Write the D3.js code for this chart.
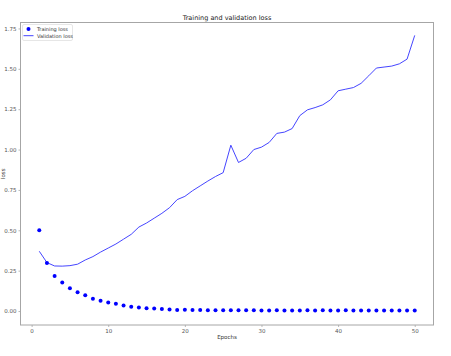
<!DOCTYPE html>
<html>
<head>
<meta charset="utf-8">
<script src="https://cdn.jsdelivr.net/npm/d3@7"></script>
<style>
  html, body { margin: 0; padding: 0; background: #fff; }
  svg { display: block; font-family: "DejaVu Sans", sans-serif; }
</style>
</head>
<body>
<svg id="chart" width="451" height="356"></svg>
<script>
const epochs = d3.range(1, 51);
const trainingLoss = [
  0.500, 0.298, 0.217, 0.176, 0.141, 0.116, 0.097, 0.076, 0.064, 0.052,
  0.045, 0.034, 0.027, 0.022, 0.017, 0.015, 0.013, 0.010, 0.007, 0.008,
  0.006, 0.007, 0.004, 0.005, 0.004, 0.004, 0.005, 0.004, 0.005, 0.003,
  0.003, 0.005, 0.003, 0.003, 0.003, 0.004, 0.003, 0.005, 0.003, 0.003,
  0.005, 0.003, 0.003, 0.003, 0.003, 0.003, 0.003, 0.003, 0.003, 0.003
];
const validationLoss = [
  0.370, 0.300, 0.279, 0.278, 0.281, 0.290, 0.316, 0.337, 0.365, 0.390,
  0.415, 0.445, 0.475, 0.520, 0.545, 0.575, 0.605, 0.640, 0.690, 0.710,
  0.745, 0.775, 0.805, 0.833, 0.857, 1.027, 0.920, 0.946, 1.000, 1.015,
  1.044, 1.100, 1.108, 1.130, 1.210, 1.246, 1.260, 1.277, 1.308, 1.364,
  1.374, 1.384, 1.410, 1.457, 1.505, 1.511, 1.517, 1.531, 1.560, 1.707
];
const xTicks = [0, 10, 20, 30, 40, 50];
const yTicks = [0.00, 0.25, 0.50, 0.75, 1.00, 1.25, 1.50, 1.75];
const chartTitle = "Training and validation loss";
const xLabel = "Epochs";
const yLabel = "loss";
const legendLabels = ["Training loss", "Validation loss"];

const svg = d3.select("#chart");
const pLeft = 20.5, pRight = 433.5, pTop = 22.5, pBottom = 325;

const x = d3.scaleLinear().domain([-1.45, 52.45]).range([pLeft, pRight]);
const y = d3.scaleLinear().domain([-0.0866, 1.7869]).range([pBottom, pTop]);

const tickColor = "#555";
const spineColor = "#a6a6a6";

// x axis
const xAxis = svg.append("g").attr("transform", `translate(0,${pBottom})`)
  .call(d3.axisBottom(x).tickValues(xTicks).tickFormat(d3.format("d")).tickSize(2).tickPadding(2));
// y axis
const yAxis = svg.append("g").attr("transform", `translate(${pLeft},0)`)
  .call(d3.axisLeft(y).tickValues(yTicks).tickFormat(d3.format(".2f")).tickSize(2).tickPadding(2));
[xAxis, yAxis].forEach(g => {
  g.select(".domain").remove();
  g.selectAll(".tick line").attr("stroke", spineColor).attr("stroke-width", 0.8);
  g.selectAll(".tick text").attr("fill", tickColor).style("font-size", "5.5px")
    .style("font-family", "DejaVu Sans, sans-serif");
});

// frame
svg.append("rect").attr("x", pLeft).attr("y", pTop)
  .attr("width", pRight - pLeft).attr("height", pBottom - pTop)
  .attr("fill", "none").attr("stroke", spineColor).attr("stroke-width", 1);

// validation line
svg.append("path")
  .datum(epochs.map((e, i) => [e, validationLoss[i]]))
  .attr("fill", "none").attr("stroke", "#3030ff").attr("stroke-width", 0.9)
  .attr("stroke-linejoin", "round")
  .attr("d", d3.line().x(d => x(d[0])).y(d => y(d[1])));

// training dots
svg.append("g").selectAll("circle")
  .data(epochs.map((e, i) => [e, trainingLoss[i]]))
  .join("circle")
  .attr("cx", d => x(d[0])).attr("cy", d => y(d[1]))
  .attr("r", 2).attr("fill", "#0000ff");

// title and labels
svg.append("text").attr("x", (pLeft + pRight) / 2).attr("y", 20)
  .attr("text-anchor", "middle").style("font-size", "6.5px").attr("fill", "#222").text(chartTitle);
svg.append("text").attr("x", (pLeft + pRight) / 2).attr("y", 339)
  .attr("text-anchor", "middle").style("font-size", "5.5px").attr("fill", "#333").text(xLabel);
svg.append("text").attr("transform", `translate(5,${(pTop + pBottom) / 2}) rotate(-90)`)
  .attr("text-anchor", "middle").style("font-size", "5.5px").attr("fill", "#333").text(yLabel);

// legend
const lg = svg.append("g");
lg.append("rect").attr("x", 22.5).attr("y", 24.5).attr("width", 50).attr("height", 16)
  .attr("rx", 1.5).attr("fill", "#fff").attr("stroke", "#e0e0e0").attr("stroke-width", 0.8);
lg.append("circle").attr("cx", 28.5).attr("cy", 29).attr("r", 2).attr("fill", "#0000ff");
lg.append("line").attr("x1", 23.5).attr("x2", 33.5).attr("y1", 35.7).attr("y2", 35.7)
  .attr("stroke", "#3030ff").attr("stroke-width", 0.9);
lg.selectAll("text.leg").data(legendLabels).join("text").attr("class", "leg")
  .attr("x", 37).attr("y", (d, i) => 31 + i * 6.7)
  .style("font-size", "5px").attr("fill", "#333").text(d => d);
</script>
</body>
</html>
